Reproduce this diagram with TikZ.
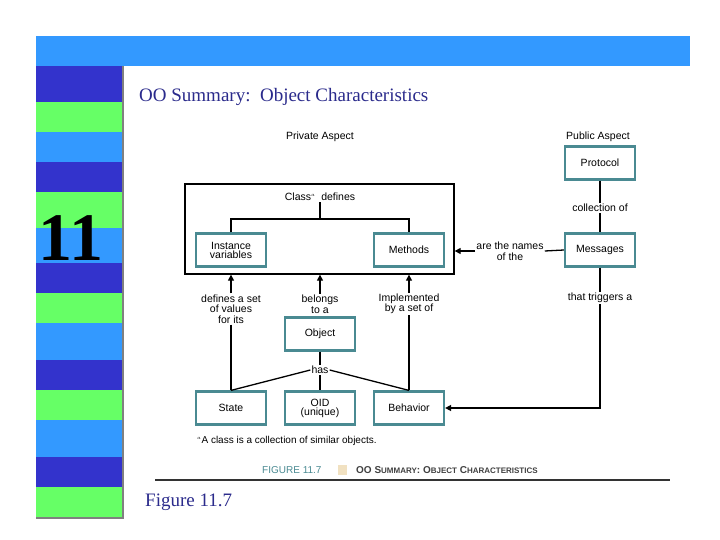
\documentclass[tikz,border=0pt]{standalone}
\usepackage{fontspec}
\setmainfont{Liberation Sans}
\newfontfamily\seriff{Liberation Serif}
\usetikzlibrary{arrows.meta}
\definecolor{sblue}{HTML}{3399FF}
\definecolor{sdark}{HTML}{3333CC}
\definecolor{sgreen}{HTML}{66FF66}
\definecolor{teal}{HTML}{4A8A92}
\definecolor{ttl}{HTML}{2B2B8C}
\begin{document}
\begin{tikzpicture}[x=1pt,y=-1pt,
  bx/.style={draw=teal,line width=2.2pt,minimum width=70pt,minimum height=33pt,align=center,font=\fontsize{10.5}{11}\selectfont,inner sep=1pt},
  lb/.style={align=center,font=\fontsize{10.5}{10.5}\selectfont,inner sep=1pt},
  ln/.style={line width=1.3pt},
  ar/.style={line width=1.3pt,-{Triangle[length=6pt,width=6pt]}}]
\useasboundingbox (0,0) rectangle (720,540);
\fill[white] (0,0) rectangle (720,540);
\fill[sblue] (36,36) rectangle (690,66);
\foreach \a/\b/\c in {66/102/sdark,102/132/sgreen,132/162/sblue,162/192/sdark,192/228/sgreen,228/263/sblue,263/293/sdark,293/323/sgreen,323/360/sblue,360/390/sdark,390/420/sgreen,420/457/sblue,457/487/sdark,487/517/sgreen}
  \fill[\c] (36,\a) rectangle (122,\b);
\draw[gray,line width=1.5pt] (123,66) -- (123,518) -- (36,518);
\node[font=\seriff\bfseries\fontsize{68}{68}\selectfont,inner sep=0] (num) at (71,238) {11};
\node[font=\seriff\fontsize{19}{20}\selectfont,text=ttl,anchor=west,inner sep=0] (title) at (139,97) {OO Summary:\ \ Object Characteristics};
\node[font=\seriff\fontsize{19}{20}\selectfont,text=ttl,anchor=west,inner sep=0] (fig) at (145,502) {Figure 11.7};

\node[lb] (priv) at (320,137) {Private Aspect};
\node[lb] (pub) at (598,137) {Public Aspect};
\node[draw,line width=1.3pt,minimum width=269pt,minimum height=90pt] (cls) at (319.5,229) {};
\node[lb] (cdef) at (320,197) {Class$^{\scriptscriptstyle a}$\ \ defines};
\node[bx] (iv) at (231,250) {Instance\\[-2pt]variables};
\node[bx] (meth) at (409,250) {Methods};
\node[bx] (prot) at (600,163) {Protocol};
\node[bx] (msg) at (600,250) {Messages};
\node[bx] (obj) at (320,334) {Object};
\node[bx] (state) at (231,408) {State};
\node[bx] (oid) at (320,408) {OID\\[-2pt](unique)};
\node[bx] (beh) at (409,408) {Behavior};

\draw[ln] (cdef.south) -- (320,219) coordinate (t0);
\draw[ln] (iv.north) |- (t0) -| (meth.north);

\node[lb] (coll) at (600,208) {collection of};
\draw[ln] (prot) -- (coll) -- (msg);
\node[lb] (names) at (510,251) {are the names\\of the};
\draw[ar] (names.west) -- (cls.east |- names.west);
\draw[ln] (names.east) -- (msg.west);
\node[lb] (trig) at (600,298) {that triggers a};
\draw[ln] (msg) -- (trig);
\draw[ar] (trig.south) |- (beh.east);

\node[lb] (dset) at (231,309) {defines a set\\of values\\for its};
\node[lb] (bel) at (320,304) {belongs\\to a};
\node[lb] (impl) at (409,304) {Implemented\\by a set of};
\draw[ar] (dset.north) -- (dset.north |- cls.south);
\draw[ar] (bel.north) -- (bel.north |- cls.south);
\draw[ar] (impl.north) -- (impl.north |- cls.south);
\draw[ln] (dset.south) -- (state.north);
\draw[ln] (impl.south) -- (beh.north);

\node[lb] (has) at (320,370) {has};
\draw[ln] (obj) -- (has) -- (oid);
\draw[ln] (has.west) -- (state.north);
\draw[ln] (has.east) -- (beh.north);

\node[lb,anchor=west,font=\fontsize{10}{10}\selectfont] (foot) at (196,441) {$^{\scriptscriptstyle a}$A class is a collection of similar objects.};
\node[anchor=west,inner sep=0,font=\fontsize{10}{10}\selectfont,text=teal] (figl) at (262,470) {FIGURE 11.7};
\fill[yellow!20!brown!30] (338,465) rectangle (347,475);
\node[anchor=west,inner sep=0,font=\bfseries\fontsize{10}{10}\selectfont,text=black!75] (figc) at (356,470) {OO S{\fontsize{8}{8}\selectfont UMMARY}: O{\fontsize{8}{8}\selectfont BJECT} C{\fontsize{8}{8}\selectfont HARACTERISTICS}};
\draw[line width=1.5pt,black!80] (155,480) -- (670,480);
\end{tikzpicture}
\end{document}
